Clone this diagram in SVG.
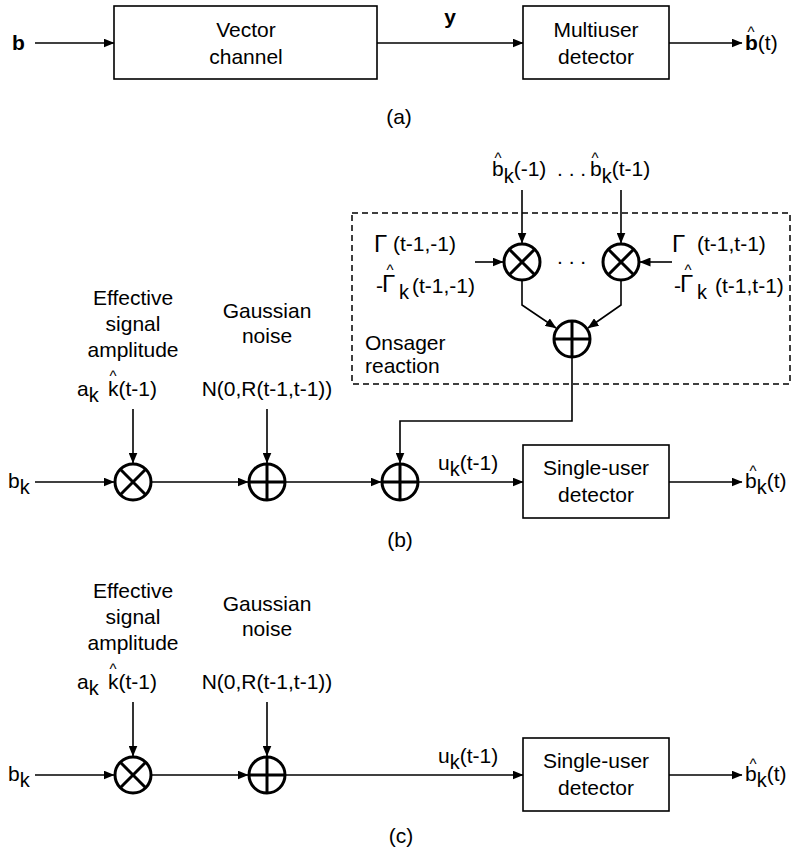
<svg xmlns="http://www.w3.org/2000/svg" width="797" height="851" viewBox="0 0 797 851">
<style>
text{font-family:"Liberation Sans",Arial,sans-serif;font-size:21px;fill:#000}
.c{text-anchor:middle}
.b{font-weight:bold}
.hat{font-size:15px}
.sub{font-size:20px}
.g{font-size:24px}
.box{fill:#fff;stroke:#000;stroke-width:1.6}
.op{fill:#fff;stroke:#000;stroke-width:3}
.opl{stroke:#000;stroke-width:3}
.ln{fill:none;stroke:#000;stroke-width:1.6}
.dash{fill:none;stroke:#000;stroke-width:1.5;stroke-dasharray:6 4}
</style>
<defs>
<marker id="ah" markerUnits="userSpaceOnUse" markerWidth="11" markerHeight="9" refX="10.5" refY="4.5" orient="auto">
<path d="M0,0 L11,4.5 L0,9 z" fill="#000"/>
</marker>
</defs>

<!-- (a) -->
<g id="a-input"><text class="b" x="12" y="50">b</text></g>
<g id="vector-channel">
<rect class="box" x="114" y="6" width="263" height="73"/>
<text class="c" x="246" y="37">Vector</text>
<text class="c" x="246" y="64">channel</text>
</g>
<g id="y-label"><text class="b c" x="450" y="24">y</text></g>
<g id="multiuser-detector">
<rect class="box" x="523" y="6" width="146" height="73"/>
<text class="c" x="596" y="37">Multiuser</text>
<text class="c" x="596" y="64">detector</text>
</g>
<g id="a-output">
<text class="hat c" x="751" y="37">^</text>
<text x="745" y="50"><tspan class="b">b</tspan>(t)</text>
</g>
<g id="label-a"><text class="c" x="399" y="124">(a)</text></g>

<!-- (b) -->
<g id="onsager-box"><rect class="dash" x="352" y="213" width="438" height="171"/>
<text x="365" y="350">Onsager</text>
<text x="365" y="373">reaction</text>
</g>
<g id="bhat-k-minus1">
<text class="hat c" x="498" y="163">^</text>
<text x="492" y="176">b<tspan class="sub" dy="7">k</tspan><tspan dy="-7">(-1)</tspan></text>
</g>
<g id="top-dots"><text x="557" y="176">. . .</text></g>
<g id="bhat-k-t-1">
<text class="hat c" x="595" y="163">^</text>
<text x="590" y="176">b<tspan class="sub" dy="7">k</tspan><tspan dy="-7">(t-1)</tspan></text>
</g>
<g id="gamma-left">
<text class="g" x="374" y="252">Γ</text>
<text x="393" y="251">(t-1,-1)</text>
<text x="376" y="293">-</text>
<text class="g" x="382" y="292">Γ</text>
<text class="hat c" x="390" y="275">^</text>
<text class="sub" x="399" y="299">k</text>
<text x="412" y="293">(t-1,-1)</text>
</g>
<g id="gamma-right">
<text class="g" x="672" y="252">Γ</text>
<text x="697" y="251">(t-1,t-1)</text>
<text x="674" y="293">-</text>
<text class="g" x="680" y="292">Γ</text>
<text class="hat c" x="688" y="275">^</text>
<text class="sub" x="697" y="299">k</text>
<text x="715" y="293">(t-1,t-1)</text>
</g>
<g id="mult-onsager-1"><circle class="op" cx="522" cy="262" r="18"/>
<line class="opl" x1="509.3" y1="249.3" x2="534.7" y2="274.7"/><line class="opl" x1="534.7" y1="249.3" x2="509.3" y2="274.7"/></g>
<g id="mid-dots"><text x="557" y="264">. . .</text></g>
<g id="mult-onsager-2"><circle class="op" cx="621" cy="262" r="18"/>
<line class="opl" x1="608.3" y1="249.3" x2="633.7" y2="274.7"/><line class="opl" x1="633.7" y1="249.3" x2="608.3" y2="274.7"/></g>
<g id="sum-onsager"><circle class="op" cx="572" cy="339" r="18"/>
<line class="opl" x1="554" y1="339" x2="590" y2="339"/><line class="opl" x1="572" y1="321" x2="572" y2="357"/></g>

<g id="b-input"><text x="8" y="488">b<tspan class="sub" dy="6">k</tspan></text></g>
<g id="b-amplitude">
<text class="c" x="133" y="305">Effective</text>
<text class="c" x="133" y="331">signal</text>
<text class="c" x="133" y="357">amplitude</text>
<text x="77" y="396">a<tspan class="sub" dy="6">k</tspan></text>
<text class="hat c" x="113" y="381">^</text>
<text x="108" y="396">k(t-1)</text>
</g>
<g id="b-noise">
<text class="c" x="267" y="318">Gaussian</text>
<text class="c" x="267" y="343">noise</text>
<text class="c" x="267" y="396">N(0,R(t-1,t-1))</text>
</g>
<g id="b-mult"><circle class="op" cx="133" cy="482" r="18"/>
<line class="opl" x1="120.3" y1="469.3" x2="145.7" y2="494.7"/><line class="opl" x1="145.7" y1="469.3" x2="120.3" y2="494.7"/></g>
<g id="b-sum1"><circle class="op" cx="267" cy="482" r="18"/>
<line class="opl" x1="249" y1="482" x2="285" y2="482"/><line class="opl" x1="267" y1="464" x2="267" y2="500"/></g>
<g id="b-sum2"><circle class="op" cx="400" cy="482" r="18"/>
<line class="opl" x1="382" y1="482" x2="418" y2="482"/><line class="opl" x1="400" y1="464" x2="400" y2="500"/></g>
<g id="b-u"><text x="438" y="470">u<tspan class="sub" dy="6">k</tspan><tspan dy="-6">(t-1)</tspan></text></g>
<g id="b-single-user">
<rect class="box" x="523" y="445" width="146" height="73"/>
<text class="c" x="596" y="475">Single-user</text>
<text class="c" x="596" y="502">detector</text>
</g>
<g id="b-output">
<text class="hat c" x="753" y="476">^</text>
<text x="745" y="488">b<tspan class="sub" dy="6">k</tspan><tspan dy="-6">(t)</tspan></text>
</g>
<g id="label-b"><text class="c" x="400" y="547">(b)</text></g>

<!-- (c) -->
<g id="c-input"><text x="8" y="781">b<tspan class="sub" dy="6">k</tspan></text></g>
<g id="c-amplitude">
<text class="c" x="133" y="598">Effective</text>
<text class="c" x="133" y="624">signal</text>
<text class="c" x="133" y="650">amplitude</text>
<text x="77" y="689">a<tspan class="sub" dy="6">k</tspan></text>
<text class="hat c" x="113" y="674">^</text>
<text x="108" y="689">k(t-1)</text>
</g>
<g id="c-noise">
<text class="c" x="267" y="611">Gaussian</text>
<text class="c" x="267" y="636">noise</text>
<text class="c" x="267" y="689">N(0,R(t-1,t-1))</text>
</g>
<g id="c-mult"><circle class="op" cx="133" cy="775" r="18"/>
<line class="opl" x1="120.3" y1="762.3" x2="145.7" y2="787.7"/><line class="opl" x1="145.7" y1="762.3" x2="120.3" y2="787.7"/></g>
<g id="c-sum"><circle class="op" cx="267" cy="775" r="18"/>
<line class="opl" x1="249" y1="775" x2="285" y2="775"/><line class="opl" x1="267" y1="757" x2="267" y2="793"/></g>
<g id="c-u"><text x="438" y="763">u<tspan class="sub" dy="6">k</tspan><tspan dy="-6">(t-1)</tspan></text></g>
<g id="c-single-user">
<rect class="box" x="523" y="738" width="146" height="73"/>
<text class="c" x="596" y="768">Single-user</text>
<text class="c" x="596" y="795">detector</text>
</g>
<g id="c-output">
<text class="hat c" x="753" y="769">^</text>
<text x="745" y="781">b<tspan class="sub" dy="6">k</tspan><tspan dy="-6">(t)</tspan></text>
</g>
<g id="label-c"><text class="c" x="401" y="843">(c)</text></g>

<g id="connectors">
<path class="ln" marker-end="url(#ah)" d="M35,43 H114"/>
<path class="ln" marker-end="url(#ah)" d="M377,43 H523"/>
<path class="ln" marker-end="url(#ah)" d="M669,43 H742"/>
<path class="ln" marker-end="url(#ah)" d="M522,190 V243"/>
<path class="ln" marker-end="url(#ah)" d="M621,190 V243"/>
<path class="ln" marker-end="url(#ah)" d="M475,262 H503"/>
<path class="ln" marker-end="url(#ah)" d="M672,262 H640"/>
<path class="ln" marker-end="url(#ah)" d="M522,281 V305 L556,328"/>
<path class="ln" marker-end="url(#ah)" d="M621,281 V305 L588,328"/>
<path class="ln" marker-end="url(#ah)" d="M572,358 V421 H400 V463"/>
<path class="ln" marker-end="url(#ah)" d="M35,482 H114"/>
<path class="ln" marker-end="url(#ah)" d="M133,409 V463"/>
<path class="ln" marker-end="url(#ah)" d="M152,482 H248"/>
<path class="ln" marker-end="url(#ah)" d="M267,409 V463"/>
<path class="ln" marker-end="url(#ah)" d="M286,482 H381"/>
<path class="ln" marker-end="url(#ah)" d="M419,482 H523"/>
<path class="ln" marker-end="url(#ah)" d="M669,482 H742"/>
<path class="ln" marker-end="url(#ah)" d="M35,775 H114"/>
<path class="ln" marker-end="url(#ah)" d="M133,702 V756"/>
<path class="ln" marker-end="url(#ah)" d="M152,775 H248"/>
<path class="ln" marker-end="url(#ah)" d="M267,702 V756"/>
<path class="ln" marker-end="url(#ah)" d="M286,775 H523"/>
<path class="ln" marker-end="url(#ah)" d="M669,775 H742"/>
</g>
</svg>
